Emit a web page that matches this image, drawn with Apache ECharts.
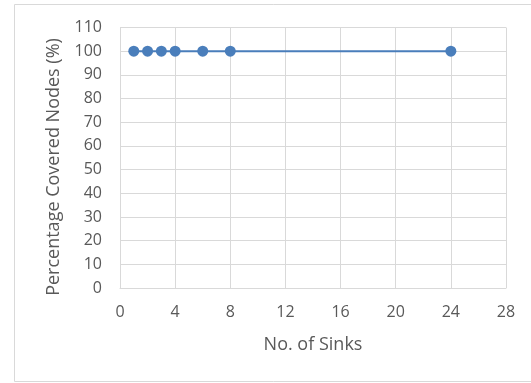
<!DOCTYPE html>
<html><head><meta charset="utf-8">
<script src="https://cdn.jsdelivr.net/npm/echarts@6/dist/echarts.min.js"></script>
<style>html,body{margin:0;padding:0;background:#fff}#c{width:531px;height:383px}</style>
</head><body><div id="c"></div>
<script>
const sinks = [1, 2, 3, 4, 6, 8, 24];
const coverage = [100, 100, 100, 100, 100, 100, 100];
const xTicks = [0, 4, 8, 12, 16, 20, 24, 28];
const yTicks = [0, 10, 20, 30, 40, 50, 60, 70, 80, 90, 100, 110];
const xTitle = 'No. of Sinks';
const yTitle = 'Percentage Covered Nodes (%)';

const chart = echarts.init(document.getElementById('c'), null, {renderer: 'canvas'});
const font = '"Open Sans", sans-serif';
const grid = '#d9d9d9';
chart.setOption({
  animation: false,
  graphic: [
    {type: 'rect', shape: {x: 14.5, y: 4.5, width: 530, height: 377}, style: {fill: 'none', stroke: '#d9d9d9', lineWidth: 1}},
    {type: 'text', x: 54, y: 167, rotation: Math.PI / 2,
     style: {text: yTitle, fill: '#595959', font: '18px "Open Sans", sans-serif', align: 'center', verticalAlign: 'middle'}}
  ],
  grid: {left: 120, right: 25, top: 27.5, bottom: 95},
  xAxis: {
    type: 'value', min: xTicks[0], max: xTicks[xTicks.length - 1], interval: 4,
    name: xTitle, nameLocation: 'middle', nameGap: 48,
    nameTextStyle: {color: '#595959', fontSize: 18, fontFamily: font},
    axisLine: {show: true, lineStyle: {color: grid}}, axisTick: {show: false},
    axisLabel: {color: '#595959', fontSize: 16, fontFamily: font, margin: 16},
    splitLine: {show: true, lineStyle: {color: grid}}
  },
  yAxis: {
    type: 'value', min: yTicks[0], max: yTicks[yTicks.length - 1], interval: 10,
    axisLine: {show: true, lineStyle: {color: grid}}, axisTick: {show: false},
    axisLabel: {color: '#595959', fontSize: 16, fontFamily: font, margin: 18},
    splitLine: {show: true, lineStyle: {color: grid}}
  },
  series: [{
    type: 'line', data: sinks.map((s, i) => [s, coverage[i]]),
    symbol: 'circle', symbolSize: 11,
    lineStyle: {color: '#4a7ebb', width: 2},
    itemStyle: {color: '#4a7ebb'}
  }]
});
</script></body></html>
